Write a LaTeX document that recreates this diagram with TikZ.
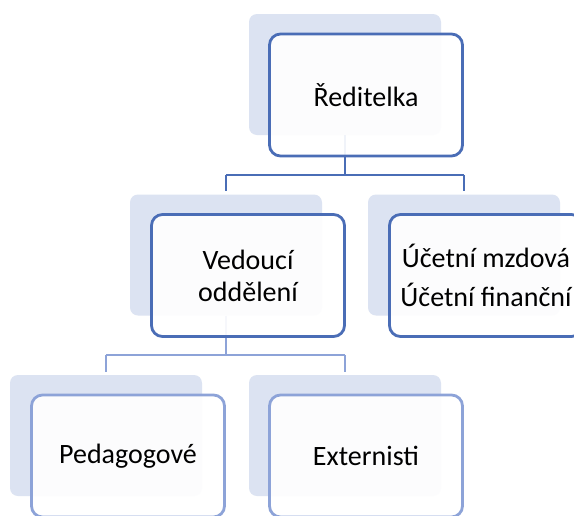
\documentclass[tikz,border=0pt]{standalone}
\usepackage{fontspec}
\setmainfont{Carlito}
\definecolor{darkb}{HTML}{4A6DB6}
\definecolor{lightb}{HTML}{8DA3D8}
\definecolor{shade}{HTML}{DCE3F2}
\tikzset{
  shadowbox/.style={fill=shade, rounded corners=8pt, minimum width=192pt, minimum height=121pt, inner sep=0pt},
  mainbox/.style={draw=#1, line width=2.8pt, fill=white, fill opacity=0.92, text opacity=1, rounded corners=11pt, minimum width=193pt, minimum height=122pt, inner sep=0pt, align=center, font=\fontsize{28pt}{32pt}\selectfont},
  conn/.style={draw=#1, line width=2.8pt},
}
\begin{document}
\begin{tikzpicture}[x=1pt,y=-1pt]
\clip (0,0) rectangle (574,515);
\fill[white] (0,0) rectangle (574,515);
% shadows
\node[shadowbox] (s1) at (345,74.5) {};
\node[shadowbox] (s2) at (226,255) {};
\node[shadowbox] (s3) at (464,255) {};
\node[shadowbox] (s4) at (106,435.5) {};
\node[shadowbox] (s5) at (345,435.5) {};
% connectors
\coordinate (j1) at (345,175);
\coordinate (j2) at (226,355);
\draw[conn=darkb] (s1.south) -- (j1);
\draw[conn=darkb] (226,175) -- (464,175);
\draw[conn=darkb, shorten >=3pt] (226,175) -- (s2.north);
\draw[conn=darkb, shorten >=3pt] (464,175) -- (s3.north);
\draw[conn=lightb] (s2.south) -- (j2);
\draw[conn=lightb] (106,355) -- (345,355);
\draw[conn=lightb, shorten >=3pt] (106,355) -- (s4.north);
\draw[conn=lightb, shorten >=3pt] (345,355) -- (s5.north);
% main boxes
\node[mainbox=darkb] (b1) at (366,95) {Ředitelka};
\node[mainbox=darkb] (b2) at (248,275.5) {Vedoucí\\oddělení};
\node[mainbox=darkb] (b3) at (486,275.5) {Účetní mzdová\\[7pt]Účetní finanční};
\node[mainbox=lightb] (b4) at (128,456) {Pedagogové};
\node[mainbox=lightb] (b5) at (366,456) {Externisti};
\end{tikzpicture}
\end{document}
